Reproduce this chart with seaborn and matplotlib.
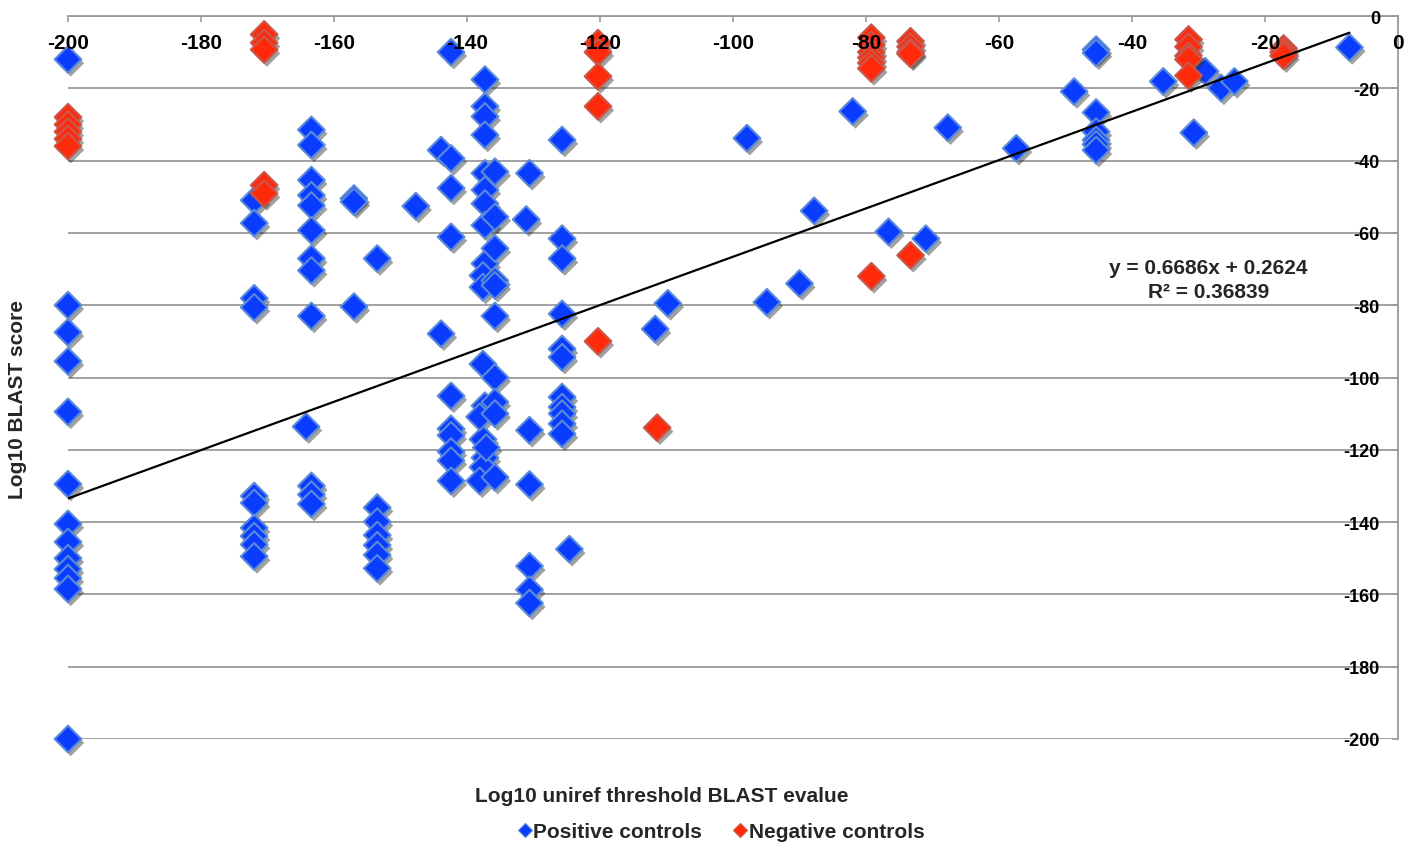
import numpy as np
import pandas as pd
import seaborn as sns
import matplotlib
matplotlib.use("Agg")
import matplotlib.pyplot as plt
import matplotlib.patheffects as pe
from matplotlib.lines import Line2D

# ---------------- data ----------------
pos_x = ([-200] * 13 + [-172] * 10 + [-163.4] * 12 + [-164.2] + [-157] * 3 +
         [-153.5] * 7 + [-147.7] + [-143.9] * 2 + [-142.4] * 10 + [-137.3] * 11 +
         [-137.6] * 5 + [-138.1] * 2 + [-137.1] + [-135.8] * 10 + [-131.1] +
         [-130.6] * 6 + [-125.7] * 11 + [-124.6] + [-111.7] + [-109.8] + [-97.9] +
         [-94.9] + [-90.0] + [-87.8] + [-82.0] + [-76.6] + [-71.0] + [-67.7] +
         [-57.4] + [-48.7] + [-45.4] * 7 + [-35.3] + [-30.7] + [-29.0] + [-26.6] +
         [-24.6] + [-7.3])
pos_y = ([-12, -80, -87.5, -95.5, -109.5, -129.5, -140.5, -145.5, -150, -153, -155.5, -158.5, -200] +
         [-51, -57.3, -78.1, -80.6, -132.8, -134.7, -141.6, -143.9, -146.2, -149.5] +
         [-31.5, -35.7, -45.4, -49.6, -52.4, -59.3, -67.1, -70.4, -83.0, -130, -132.4, -135] +
         [-113.6] + [-50.5, -51.4, -80.4] +
         [-67.1, -136, -139.9, -143.6, -146.4, -149.1, -152.8] + [-52.6] + [-37.1, -87.9] +
         [-10.0, -39.4, -47.6, -61.1, -105.1, -114.2, -116, -120.5, -123, -128.6] +
         [-17.6, -25.0, -27.8, -32.9, -43.5, -48.1, -51.9, -57.9, -68.5, -107.8, -122.2] +
         [-71.8, -75.0, -96.3, -117.1, -124.8] + [-110.9, -128.6] + [-119.4] +
         [-43.1, -55.6, -64.3, -73.2, -74.5, -83.0, -100, -106.8, -110, -127.6] + [-56.3] +
         [-43.5, -114.6, -129.6, -152.2, -158.7, -162.4] +
         [-34.3, -61.6, -67.1, -82.4, -92.1, -94.4, -105.4, -108.2, -110, -112.8, -115.6] +
         [-147.5] + [-86.6] + [-79.5] + [-33.8] + [-79.2] + [-74.0] + [-53.9] + [-26.4] +
         [-59.7] + [-61.6] + [-30.9] + [-36.6] + [-20.9] +
         [-9.3, -10.2, -26.7, -32.0, -34.3, -35.5, -37.1] + [-18.1] + [-32.3] + [-15.3] +
         [-19.9] + [-18.1] + [-8.7])

neg_x = ([-200] * 5 + [-170.5] * 5 + [-120.3] * 5 + [-111.4] + [-79.2] * 7 +
         [-73.3] * 5 + [-31.5] * 5 + [-17.2] * 3)
neg_y = ([-28, -30, -32, -34, -36] + [-5.1, -7.4, -9.3, -46.8, -49.1] +
         [-7.5, -10, -16.7, -25, -90] + [-113.9] +
         [-6, -8, -10, -11.5, -13, -14.5, -72] + [-7, -8.5, -10, -10.5, -66.2] +
         [-6.5, -8.5, -11, -12, -16.5] + [-9, -10, -11])

series_names = ["Positive controls", "Negative controls"]
trend_slope = 0.6686
trend_intercept = 0.2624
eq_text = "y = 0.6686x + 0.2624"
r2_text = "R² = 0.36839"
x_ticks = list(range(-200, 1, 20))
y_ticks = list(range(-200, 1, 20))
x_title = "Log10 uniref threshold BLAST evalue"
y_title = "Log10 BLAST score"

# ---------------- style ----------------
sns.set_theme(style="white")
plt.rcParams["font.family"] = ["Liberation Sans", "DejaVu Sans"]
plt.rcParams["font.weight"] = "bold"

BLUE, BLUE_EDGE = "#0A3CFF", "#5A8AD8"
RED, RED_EDGE = "#FF2A0A", "#C8584C"
GRID = "#9A9A9A"

W, H = 1408, 845
fig = plt.figure(figsize=(W / 100, H / 100), dpi=100)
ax = fig.add_axes([68 / W, 1 - 740 / H, (1398 - 68) / W, (740 - 17) / H])

pos_df = pd.DataFrame({"x": pos_x, "y": pos_y, "group": series_names[0]})
neg_df = pd.DataFrame({"x": neg_x, "y": neg_y, "group": series_names[1]})

# horizontal gridlines beneath the markers
for yv in y_ticks:
    ax.axhline(yv, color=GRID, lw=1.3, zorder=0.8)

shadow = [pe.SimplePatchShadow(offset=(2.0, -2.8), shadow_rgbFace="#202020", alpha=0.42),
          pe.Normal()]

sns.scatterplot(data=pos_df, x="x", y="y", color=BLUE, marker="D", s=185,
                edgecolor=BLUE_EDGE, linewidth=1.5, ax=ax, legend=False,
                clip_on=False, zorder=2.0)
sns.scatterplot(data=neg_df, x="x", y="y", color=RED, marker="D", s=185,
                edgecolor=RED_EDGE, linewidth=1.5, ax=ax, legend=False,
                clip_on=False, zorder=2.1)
for coll in ax.collections:
    coll.set_path_effects(shadow)

# linear trendline over the data range
all_x = np.array(pos_x + neg_x, dtype=float)
tx = np.array([all_x.min(), all_x.max()])
ax.plot(tx, trend_slope * tx + trend_intercept, color="black", lw=1.6, zorder=2.3)

ax.set_xlim(-200, 0)
ax.set_ylim(-200, 0)
ax.set_xticks(x_ticks)
ax.set_yticks(y_ticks)
ax.set_xticklabels([str(v) for v in x_ticks])
ax.set_yticklabels([str(v) for v in y_ticks])
ax.set_xlabel("")
ax.set_ylabel("")

for side in ["left", "bottom"]:
    ax.spines[side].set_visible(False)
for side in ["top", "right"]:
    ax.spines[side].set_visible(True)
    ax.spines[side].set_color(GRID)
    ax.spines[side].set_linewidth(1.3)

ax.grid(False)
ax.set_axisbelow(False)
ax.xaxis.set_zorder(5)   # tick labels drawn above the markers
ax.yaxis.set_zorder(5)

ax.xaxis.tick_top()
ax.yaxis.tick_right()
ax.tick_params(axis="x", which="both", top=True, bottom=False, labeltop=True,
               labelbottom=False, direction="in", length=4.5, width=1.2,
               color=GRID, pad=-26, labelsize=15, labelcolor="black")
ax.tick_params(axis="y", which="both", right=True, left=False, labelright=True,
               labelleft=False, direction="in", length=4.5, width=1.2,
               color=GRID, pad=-13, labelsize=13, labelcolor="black")
for lab in ax.get_yticklabels():
    lab.set_horizontalalignment("right")
for lab in ax.get_xticklabels() + ax.get_yticklabels():
    lab.set_fontweight("bold")

# equation annotation
ax.text(-28.5, -69.5, eq_text, ha="center", va="center", fontsize=15, fontweight="bold", zorder=6)
ax.text(-28.5, -76.2, r2_text, ha="center", va="center", fontsize=15, fontweight="bold", zorder=6)

# axis titles
fig.text(662 / W, 1 - 797 / H, x_title, ha="center", va="center", fontsize=15, fontweight="bold")
fig.text(18 / W, 1 - 400 / H, y_title, ha="center", va="center", rotation=90,
         fontsize=15, fontweight="bold")

# legend
handles = [Line2D([], [], ls="none", marker="D", markersize=7, markerfacecolor=BLUE,
                  markeredgecolor=BLUE_EDGE, markeredgewidth=0.8),
           Line2D([], [], ls="none", marker="D", markersize=7, markerfacecolor=RED,
                  markeredgecolor=RED_EDGE, markeredgewidth=0.8)]
fig.legend(handles, series_names, loc="center", bbox_to_anchor=(722 / W, 1 - 833 / H),
           ncol=2, frameon=False, handlelength=0.5, handletextpad=0.15,
           columnspacing=1.6, prop={"size": 15, "weight": "bold"})

fig.savefig("out.png", dpi=100)
